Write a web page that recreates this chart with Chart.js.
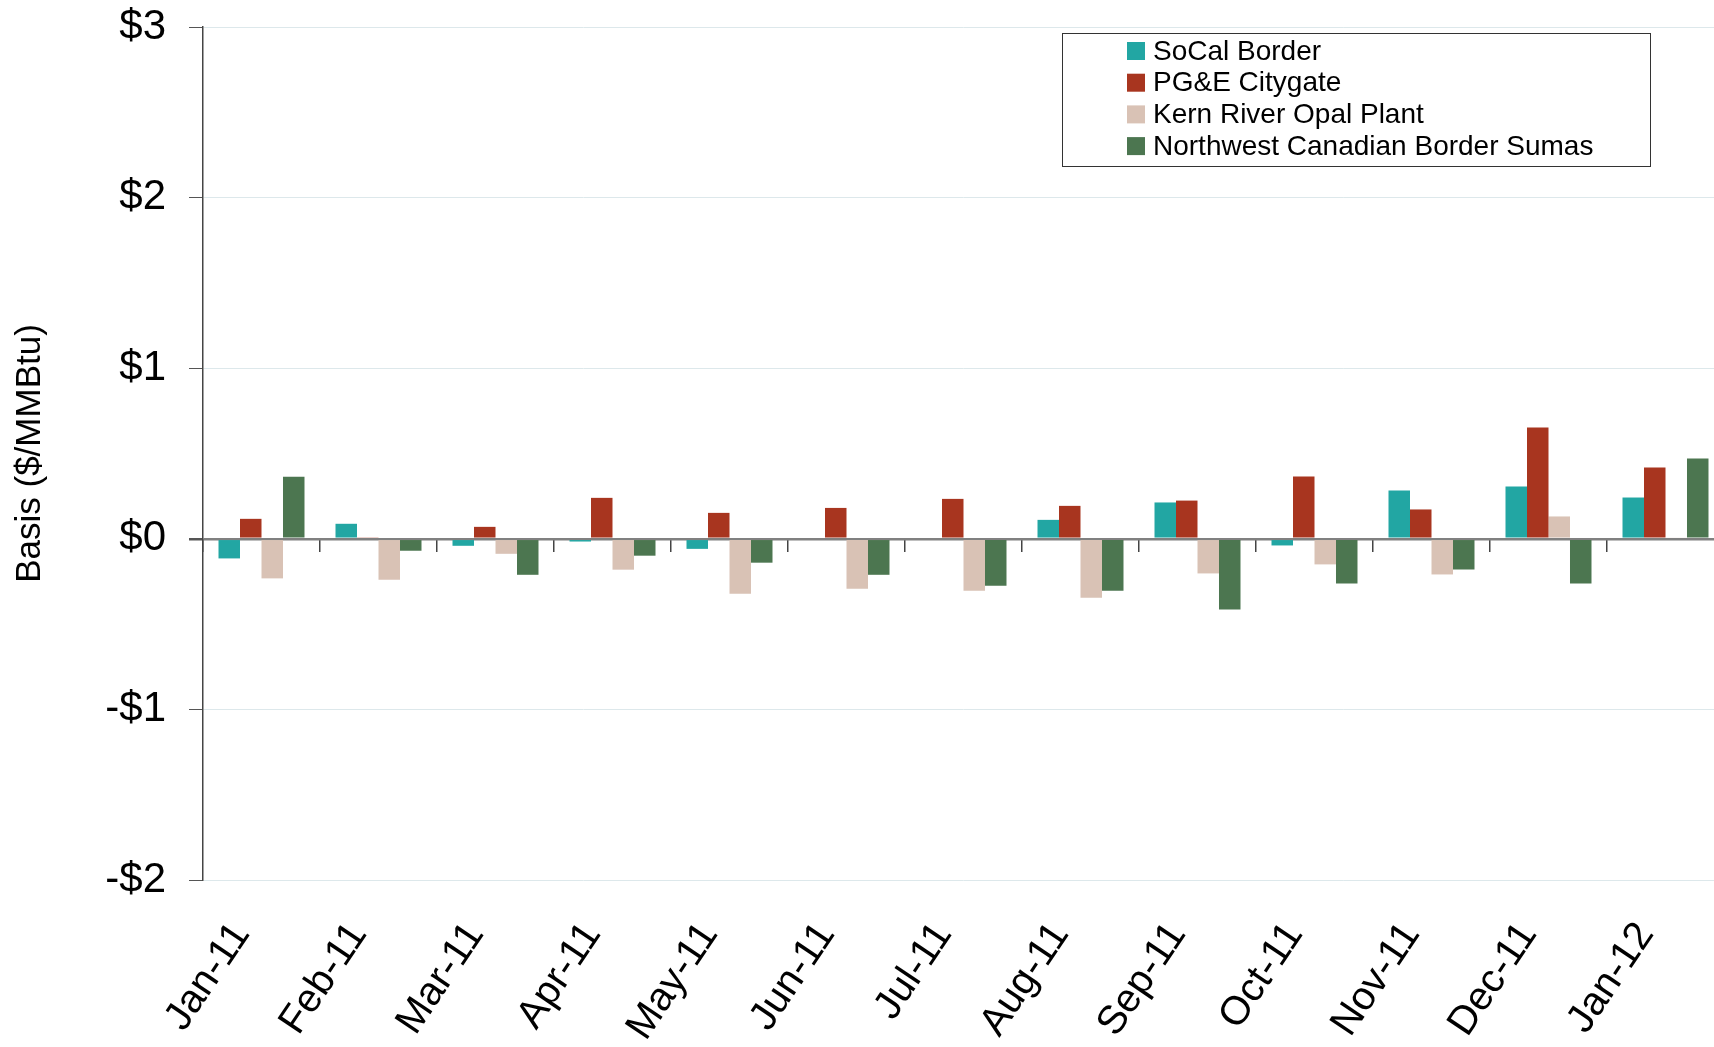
<!DOCTYPE html>
<html>
<head>
<meta charset="utf-8">
<script src="https://cdn.jsdelivr.net/npm/chart.js"></script>
<style>
	html, body { margin: 0; padding: 0; background: #fff; overflow: hidden; }
	#wrap { width: 1714px; height: 1047px; overflow: hidden; }
</style>
</head>
<body>
<div id="wrap"><canvas id="basisCanvas" width="1724" height="1047"></canvas></div>
<script>
var months = ["Jan-11", "Feb-11", "Mar-11", "Apr-11", "May-11", "Jun-11", "Jul-11",
	"Aug-11", "Sep-11", "Oct-11", "Nov-11", "Dec-11", "Jan-12"];

var socalBorder  = [-0.115, 0.088, -0.041, -0.016, -0.059, 0, 0, 0.111, 0.213, -0.039, 0.283, 0.306, 0.242];
var pgeCitygate  = [0.117, 0.006, 0.070, 0.240, 0.152, 0.181, 0.234, 0.193, 0.224, 0.365, 0.172, 0.652, 0.418];
var kernOpal     = [-0.232, -0.240, -0.088, -0.181, -0.322, -0.293, -0.304, -0.345, -0.203, -0.150, -0.209, 0.131, 0.008];
var nwSumas      = [0.363, -0.070, -0.211, -0.099, -0.140, -0.211, -0.275, -0.304, -0.414, -0.262, -0.180, -0.262, 0.470];

var yTicks = [-2, -1, 0, 1, 2, 3];

var FONT = "'Liberation Sans', Arial, sans-serif";

// legend drawn inside the plot, boxed like the original
var boxLegend = {
	id: 'boxLegend',
	afterDraw: function(chart) {
		var ctx = chart.ctx;
		var sets = chart.data.datasets;
		ctx.save();
		ctx.strokeStyle = '#333';
		ctx.lineWidth = 1;
		ctx.strokeRect(1062.5, 33.5, 588, 133);
		ctx.font = '28px ' + FONT;
		ctx.textBaseline = 'middle';
		for (var i = 0; i < sets.length; i++) {
			var y = 51 + i * 31.7;
			ctx.fillStyle = sets[i].backgroundColor;
			ctx.fillRect(1127, y - 9, 18, 18);
			ctx.fillStyle = '#000';
			ctx.fillText(sets[i].label, 1153, y + 1);
		}
		ctx.restore();
	}
};

var ctx = document.getElementById('basisCanvas').getContext('2d');
var chart = new Chart(ctx, {
	type: 'bar',
	data: {
		labels: months,
		datasets: [
			{ label: 'SoCal Border', data: socalBorder, backgroundColor: '#22a6a3' },
			{ label: 'PG&E Citygate', data: pgeCitygate, backgroundColor: '#a8351f' },
			{ label: 'Kern River Opal Plant', data: kernOpal, backgroundColor: '#d9c2b5' },
			{ label: 'Northwest Canadian Border Sumas', data: nwSumas, backgroundColor: '#4c7650' }
		]
	},
	options: {
		responsive: false,
		animation: false,
		categoryPercentage: 0.735,
		barPercentage: 1.0,
		layout: { padding: { top: 27, right: 0, left: 0, bottom: 0 } },
		plugins: {
			legend: { display: false },
			tooltip: { enabled: false }
		},
		scales: {
			x: {
				position: 'bottom',
				grid: { display: false, drawTicks: false },
				border: { display: false },
				ticks: {
					autoSkip: false,
					maxRotation: 56,
					minRotation: 56,
					padding: 34,
					labelOffset: -20,
					color: '#000',
					font: { family: FONT, size: 40 }
				},
				afterFit: function(scale) {
					scale.height = 167;
					scale.paddingLeft = 0;
					scale.paddingRight = 0;
				}
			},
			x2: {
				type: 'category',
				labels: months,
				position: { y: 0 },
				offset: true,
				grid: { offset: true, drawOnChartArea: false, drawTicks: true, tickLength: 13, tickColor: '#444', lineWidth: 1.5 },
				border: { display: false },
				ticks: { display: false }
			},
			y: {
				min: -2,
				max: 3,
				afterBuildTicks: function(scale) {
					scale.ticks = yTicks.map(function(v) { return { value: v }; });
				},
				grid: {
					color: function(c) { return c.tick && c.tick.value === 0 ? '#808080' : '#dde8eb'; },
					lineWidth: function(c) { return c.tick && c.tick.value === 0 ? 2.5 : 1; },
					tickColor: '#555',
					tickLength: 14
				},
				border: { display: true, color: '#444', width: 1.5 },
				ticks: {
					padding: 23,
					color: '#000',
					font: { family: FONT, size: 42 },
					callback: function(v) { return v < 0 ? '-$' + Math.abs(v) : '$' + v; }
				},
				title: {
					display: true,
					text: 'Basis ($/MMBtu)',
					color: '#000',
					font: { family: FONT, size: 35 },
					padding: { top: 9, bottom: 0 }
				},
				afterFit: function(scale) {
					scale.width = 203;
					scale.paddingTop = 0;
					scale.paddingBottom = 0;
				}
			}
		}
	},
	plugins: [boxLegend]
});
</script>
</body>
</html>
